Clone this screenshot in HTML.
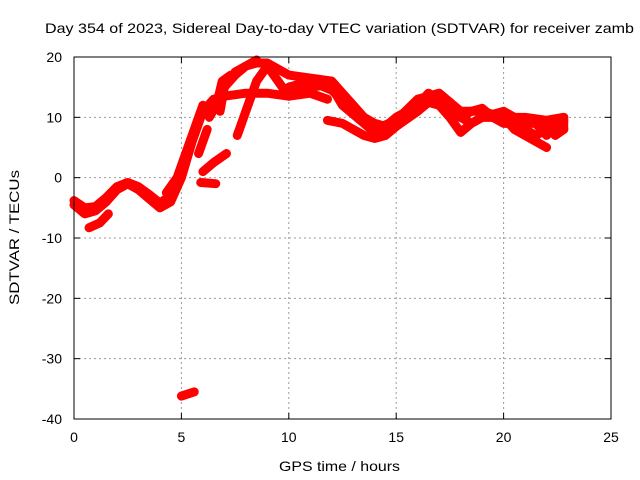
<!DOCTYPE html>
<html><head><meta charset="utf-8"><style>
html,body{margin:0;padding:0;background:#fff;}
svg{display:block;font-family:"Liberation Sans",sans-serif;}
</style></head><body>
<svg id="chart" width="640" height="480" viewBox="0 0 640 480">
<text x="45" y="33" font-size="14" textLength="589" lengthAdjust="spacingAndGlyphs">Day 354 of 2023, Sidereal Day-to-day VTEC variation (SDTVAR) for receiver zamb</text>
<text x="279" y="471" font-size="14" textLength="121" lengthAdjust="spacingAndGlyphs">GPS time / hours</text>
<text x="19" y="305" font-size="14" textLength="135" lengthAdjust="spacingAndGlyphs" transform="rotate(-90 19 305)">SDTVAR / TECUs</text>
<g id="grid"></g>
<g id="marks"></g>
<rect x="74" y="57" width="537" height="362" fill="none" stroke="#000" stroke-width="1"/>
<g id="ticks"></g>
</svg>
<script>
const xTicks=[0,5,10,15,20,25];
const yTicks=[-40,-30,-20,-10,0,10,20];
const track1=[[0,-4.5],[0.5,-6],[1,-5.5],[1.5,-4],[2,-2],[2.5,-1],[3,-2],[3.5,-3.5],[4,-5],[4.5,-4],[5,0],[5.5,6],[6,11],[6.5,13],[7,13.5],[8,14],[9,14],[10,13.5],[11,14],[11.8,13]];
const track1b=[[0,-3.8],[0.5,-5],[1,-4.8],[1.5,-3.3],[2,-1.5],[2.5,-0.8],[3,-1.5],[3.5,-2.8],[4,-4.2],[4.5,-3],[5,1]];
const track2=[[4.3,-2.5],[4.8,0],[5.2,4],[5.6,8],[6,12]];
const track3=[[6.8,11],[7,15],[7.5,17],[8,18.5],[8.5,19],[9,19],[9.5,18],[10,17],[11,16.5],[12,16],[12.5,14],[13,12],[13.5,10],[14,9],[14.5,8.5],[15,10],[16,12],[16.5,13],[17,13],[17.5,11],[18,10],[18.5,9],[19,10],[20,10],[20.5,8],[21,7],[21.5,6],[22,5]];
const track4=[[7.6,7],[8,11],[8.5,16],[9,18.5],[9.5,16],[10,13.5],[11,15],[12,15.5]];
const track5=[[11.8,9.5],[12.5,9],[13,8],[13.5,7],[14,6.5],[14.5,7],[15,9],[15.5,10.5],[16,12],[16.5,14],[17,13],[17.5,12.5],[18,10],[18.5,11],[19,11.5],[19.5,10],[20,9],[20.5,9],[21,8],[21.5,7],[22,8],[22.5,8.5],[22.8,8]];
const track6=[[12,15],[12.5,12],[13,10.5],[13.5,9],[14,7.5],[14.5,7],[15,8.5],[16,11],[16.5,12.5],[17,12],[17.5,10],[18,7.5],[18.5,9],[19,10],[20,11],[20.5,10],[21,9],[21.5,9],[22,7],[22.5,9],[22.8,9.5]];
const track7=[[10,15],[11,16],[12,14.5],[13,11],[14,8],[15,9.5],[16,13],[17,14],[18,11],[19,11],[20,10],[21,10],[22,9.5],[22.8,10]];
const track8=[[0.7,-8.3],[1.2,-7.5],[1.6,-6]];
const track9=[[5,-36.2],[5.6,-35.5]];
const track10=[[5.9,-0.8],[6.6,-1]];
const track11=[[6,1],[6.5,2.5],[7.1,4]];
const track12=[[5.8,4],[6.2,8]];
const track13=[[6.3,10],[6.7,12.5]];
const track14=[[6.7,13],[6.9,16],[7.3,17]];
const track15=[[7.5,17.5],[8,18.5],[8.5,19.5]];
const track16=[[22,9],[22.4,7],[22.8,8],[22.8,10],[22.2,9.5]];
const tracks=[track1,track1b,track2,track3,track4,track5,track6,track7,track8,track9,track10,track11,track12,track13,track14,track15,track16];
const X=h=>74+h*537/25;
const Y=v=>57+(20-v)*362/60;
const NS="http://www.w3.org/2000/svg";
const grid=document.getElementById('grid'),ticks=document.getElementById('ticks'),marks=document.getElementById('marks'),svg=document.getElementById('chart');
function mk(tag,attrs,parent){const e=document.createElementNS(NS,tag);for(const k in attrs)e.setAttribute(k,attrs[k]);parent.appendChild(e);return e;}
xTicks.forEach(t=>{
  if(t>0&&t<25){const g=mk('line',{x1:X(t),x2:X(t),y1:57,y2:419,stroke:'#999','stroke-dasharray':'2,3'},grid);
  
  }
  const a=mk('line',{x1:X(t),x2:X(t),y1:419,y2:413,stroke:'#000'},ticks);
  
  
  const b=mk('line',{x1:X(t),x2:X(t),y1:57,y2:63,stroke:'#000'},ticks);
  
  
  const l=mk('text',{x:X(t),y:442,'font-size':14,'text-anchor':'middle'},svg);l.textContent=t;
  
  
});
yTicks.forEach(t=>{
  if(t>-40&&t<20){const g=mk('line',{x1:74,x2:611,y1:Y(t),y2:Y(t),stroke:'#999','stroke-dasharray':'2,3'},grid);
  
  }
  const a=mk('line',{x1:74,x2:80,y1:Y(t),y2:Y(t),stroke:'#000'},ticks);
  
  
  const b=mk('line',{x1:605,x2:611,y1:Y(t),y2:Y(t),stroke:'#000'},ticks);
  
  
  const l=mk('text',{x:62,y:Y(t)+5,'font-size':14,'text-anchor':'end'},svg);l.textContent=t;
  
  
});
tracks.forEach(tr=>{
  const p=mk('polyline',{points:tr.map(d=>X(d[0])+','+Y(d[1])).join(' '),fill:'none',stroke:'#f00','stroke-width':9,'stroke-linejoin':'round','stroke-linecap':'round'},marks);
  
  
});
</script>
</body></html>
